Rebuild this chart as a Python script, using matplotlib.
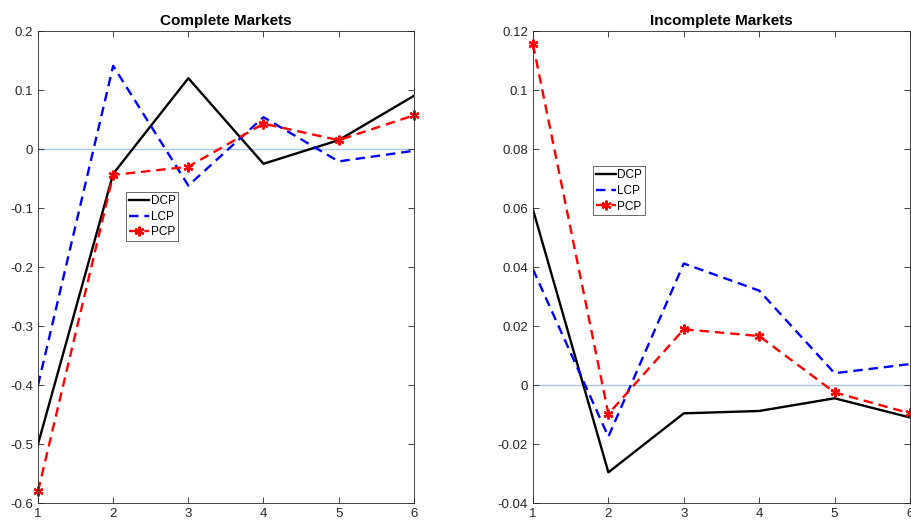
import matplotlib.pyplot as plt
from matplotlib.ticker import FuncFormatter

plt.rcParams['font.family'] = ['Liberation Sans', 'DejaVu Sans']
plt.rcParams['axes.unicode_minus'] = False

# horizon
periods = [1, 2, 3, 4, 5, 6]

# complete markets
dcp_complete = [-0.50, -0.042, 0.120, -0.025, 0.015, 0.090]
lcp_complete = [-0.40, 0.141, -0.062, 0.054, -0.021, -0.003]
pcp_complete = [-0.58, -0.044, -0.030, 0.043, 0.015, 0.057]

# incomplete markets
dcp_incomplete = [0.0595, -0.0296, -0.0096, -0.0088, -0.0045, -0.011]
lcp_incomplete = [0.0392, -0.0175, 0.0412, 0.0320, 0.0040, 0.0071]
pcp_incomplete = [0.1155, -0.0098, 0.0189, 0.0166, -0.0025, -0.0096]

fig = plt.figure(figsize=(9.12, 5.23), dpi=100)
ax1 = fig.add_axes([0.0417, 0.0382, 0.412, 0.9025])
ax2 = fig.add_axes([0.5844, 0.0382, 0.4134, 0.9025])

def draw(ax, dcp, lcp, pcp, title, ylim, yticks, legpos):
    ax.axhline(0, color='#a9c8e4', lw=1.0, zorder=1)
    ax.plot(periods, dcp, color='black', lw=1.7, label='DCP')
    ax.plot(periods, lcp, color='blue', lw=1.7, ls=(0, (4, 2.5)), label='LCP')
    ax.plot(periods, pcp, color='red', lw=1.7, ls=(0, (4, 2.5)),
            marker=(6, 2, 0), ms=7, mew=1.6, label='PCP', clip_on=False)
    ax.set_xlim(1, 6)
    ax.set_ylim(*ylim)
    ax.set_xticks(periods)
    ax.set_yticks(yticks)
    ax.yaxis.set_major_formatter(FuncFormatter(lambda v, p: '%g' % round(v, 4)))
    ax.tick_params(direction='in', top=True, right=True, length=4,
                   labelsize=9.5, colors='#262626', width=0.6)
    for s in ax.spines.values():
        s.set_color('#262626')
        s.set_linewidth(0.6)
    ax.set_title(title, fontsize=11, fontweight='bold', pad=4)
    leg = ax.legend(loc='upper left', bbox_to_anchor=legpos, fontsize=8.5,
                    frameon=True, fancybox=False, borderpad=0.25,
                    handlelength=1.7, handletextpad=0.1, labelspacing=0.3,
                    borderaxespad=0)
    leg.get_frame().set_edgecolor('#262626')
    leg.get_frame().set_linewidth(0.6)

draw(ax1, dcp_complete, lcp_complete, pcp_complete, 'Complete Markets',
     (-0.6, 0.2), [-0.6, -0.5, -0.4, -0.3, -0.2, -0.1, 0, 0.1, 0.2],
     (0.235, 0.658))
draw(ax2, dcp_incomplete, lcp_incomplete, pcp_incomplete, 'Incomplete Markets',
     (-0.04, 0.12), [-0.04, -0.02, 0, 0.02, 0.04, 0.06, 0.08, 0.1, 0.12],
     (0.16, 0.713))

fig.savefig('out.png', dpi=100)
